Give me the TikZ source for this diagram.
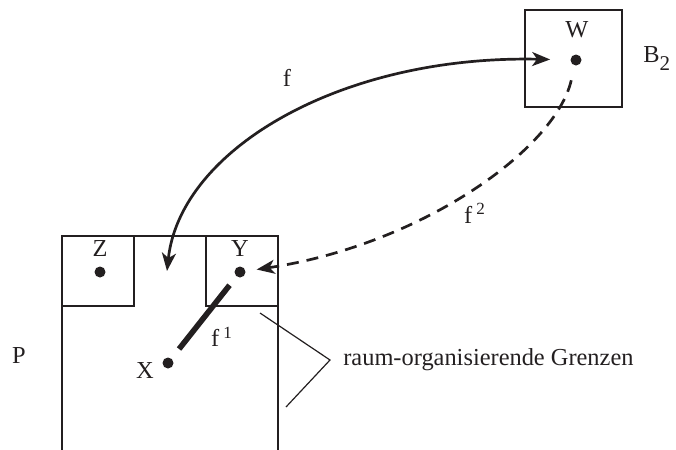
\documentclass[tikz,border=0pt]{standalone}
\usepackage{fontspec}
\setmainfont{Liberation Serif}
\usetikzlibrary{arrows.meta,positioning}
\definecolor{inkGray}{RGB}{35,31,32}

\begin{document}
\begin{tikzpicture}[x=0.5pt,y=-0.5pt,color=inkGray,line width=1.35pt,
  >={Stealth[length=9pt,width=7pt,inset=2.5pt]},
  dot/.style={circle,fill=inkGray,inner sep=0pt,minimum size=5.5pt},
  lbl/.style={text=inkGray,inner sep=0pt,font=\fontsize{12.2}{14}\selectfont},
  thinline/.style={line width=0.6pt}]
\useasboundingbox (0,0) rectangle (676,450);

% region P with its two rooms
\draw (62,450) -- (62,236) -- (278,236) -- (278,450);
\draw (134,236) -- (134,306) -- (62,306);
\draw (206,236) -- (206,306) -- (278,306);
\node[draw,inner sep=0pt,minimum size=48.5pt] (b2) at (573.5,58.5) {};

\node[dot] (w) at (576,60) {};
\node[dot] (z) at (100,272) {};
\node[dot] (y) at (240,272) {};
\node[dot] (x) at (168,363) {};
\coordinate (pgap) at (167,271);

\node[lbl] (lblW) at (577,30) {W};
\node[lbl] (lblZ) at (100,249) {Z};
\node[lbl] (lblY) at (240,249) {Y};
\node[lbl] (lblX) at (145,371) {X};
\node[lbl] (lblP) at (19,356) {P};
\node[lbl,anchor=base west] (lblB) at (642,62)
  {B{\fontsize{10.5}{12}\selectfont\raisebox{-4pt}{2}}};

\draw[<->,shorten >=9.5pt] (pgap) .. controls (180,150) and (340,55) .. (w);
\node[lbl] (lblF) at (287,78) {f};
\draw[->,dashed,dash pattern=on 6pt off 4pt,shorten <=7pt,shorten >=5pt]
  (w) .. controls (555,150) and (420,245) .. (y);
\node[lbl] (lblF2) at (475,213) {f\,\textsuperscript{2}};
\draw[line width=2.8pt,shorten <=5pt,shorten >=5.5pt] (y) -- (x);
\node[lbl] (lblF1) at (222,337) {f\,\textsuperscript{1}};

\coordinate (apex) at (330,360);
\coordinate (upperEnd) at (260,313);
\coordinate (lowerEnd) at (286,407);
\draw[thinline] (upperEnd) -- (apex) -- (lowerEnd);
\node[lbl,anchor=west] (grenzen) at (342,360) {raum-organisierende Grenzen};
\end{tikzpicture}
\end{document}
